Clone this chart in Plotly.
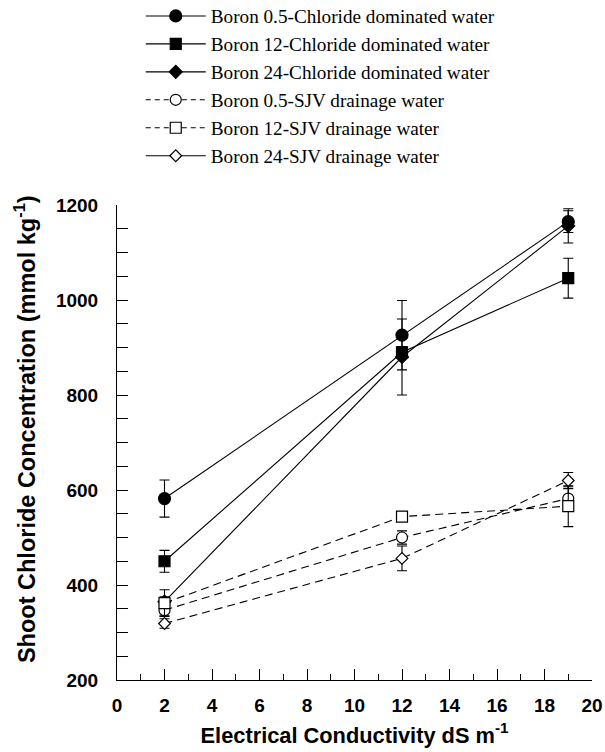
import plotly.graph_objects as go

ec = [2, 12, 19]

names = [
    "Boron 0.5-Chloride dominated water",
    "Boron 12-Chloride dominated water",
    "Boron 24-Chloride dominated water",
    "Boron 0.5-SJV drainage water",
    "Boron 12-SJV drainage water",
    "Boron 24-SJV drainage water",
]

b05_cl = [582, 926, 1165]
b05_cl_err = [39, 73, 23]
b12_cl = [450, 890, 1046]
b12_cl_err = [23, 12, 42]
b24_cl = [365, 880, 1156]
b24_cl_err = [10, 80, 36]
b05_sjv = [347, 500, 582]
b05_sjv_err = [12, 14, 25]
b12_sjv = [362, 544, 566]
b12_sjv_err = [28, 10, 43]
b24_sjv = [319, 456, 620]
b24_sjv_err = [10, 26, 17]

series = [
    (b05_cl, b05_cl_err, "circle", 12, "solid"),
    (b12_cl, b12_cl_err, "square", 11, "solid"),
    (b24_cl, b24_cl_err, "diamond", 10, "solid"),
    (b05_sjv, b05_sjv_err, "circle-open", 11, "dash"),
    (b12_sjv, b12_sjv_err, "square-open", 11, "dash"),
    (b24_sjv, b24_sjv_err, "diamond-open", 9, "dash"),
]
legend_dash = ["solid", "solid", "solid", "dash", "dash", "solid"]

fig = go.Figure()

for i, (vals, err, sym, size, dash) in enumerate(series):
    open_m = "open" in sym
    fig.add_trace(go.Scatter(
        x=ec, y=vals, mode="lines+markers", showlegend=False,
        line=dict(color="black", width=1.1, dash="8px,5px" if dash == "dash" else "solid"),
        marker=dict(symbol=sym.replace("-open", ""), size=size,
                    color="white" if open_m else "black",
                    line=dict(color="black", width=1.2)),
        error_y=dict(type="data", array=err, visible=True, color="black",
                     thickness=1.1, width=5),
    ))

for i, (vals, err, sym, size, dash) in enumerate(series):
    open_m = "open" in sym
    fig.add_trace(go.Scatter(
        x=[None], y=[None], mode="lines+markers", name=names[i],
        line=dict(color="black", width=1.1, dash="5px,4px" if legend_dash[i] == "dash" else "solid"),
        marker=dict(symbol=sym.replace("-open", ""), size=size,
                    color="white" if open_m else "black",
                    line=dict(color="black", width=1.2)),
    ))

fig.update_layout(
    width=605, height=752,
    margin=dict(l=117, r=13, t=205, b=72, autoexpand=False),
    paper_bgcolor="white", plot_bgcolor="white",
    showlegend=True,
    legend=dict(x=0.05, y=1.438, xanchor="left", yanchor="top",
                font=dict(family="Liberation Serif", size=19.2, color="black"),
                itemwidth=60, bgcolor="rgba(0,0,0,0)", tracegroupgap=0),
    xaxis=dict(range=[0, 20], tickmode="linear", tick0=0, dtick=2,
               ticks="inside", ticklen=11, tickwidth=1, tickcolor="black",
               minor=dict(dtick=1, ticks="inside", ticklen=6, tickcolor="black", tickwidth=1),
               showline=True, linecolor="black", linewidth=1, showgrid=False, zeroline=False,
               ticklabelstandoff=8,
               tickfont=dict(family="Liberation Sans", size=19, color="black", weight="bold"),
               title=dict(text="Electrical Conductivity dS m<sup>-1</sup>",
                          font=dict(family="Liberation Sans", size=21.8, color="black", weight="bold"),
                          standoff=12)),
    yaxis=dict(range=[200, 1200], tickmode="linear", tick0=200, dtick=200,
               ticks="inside", ticklen=11, tickwidth=1, tickcolor="black",
               minor=dict(dtick=50, ticks="inside", ticklen=11, tickcolor="black", tickwidth=1),
               showline=True, linecolor="black", linewidth=1, showgrid=False, zeroline=False,
               ticklabelstandoff=14,
               tickfont=dict(family="Liberation Sans", size=19, color="black", weight="bold")),
    annotations=[dict(text="Shoot Chloride Concentration (mmol kg<sup>-1</sup>)",
                      textangle=-90, xref="paper", yref="paper", x=-0.194, y=0.528,
                      xanchor="center", yanchor="middle", showarrow=False,
                      font=dict(family="Liberation Sans", size=23.5, color="black", weight="bold"))],
)

fig.write_html("out.html")
